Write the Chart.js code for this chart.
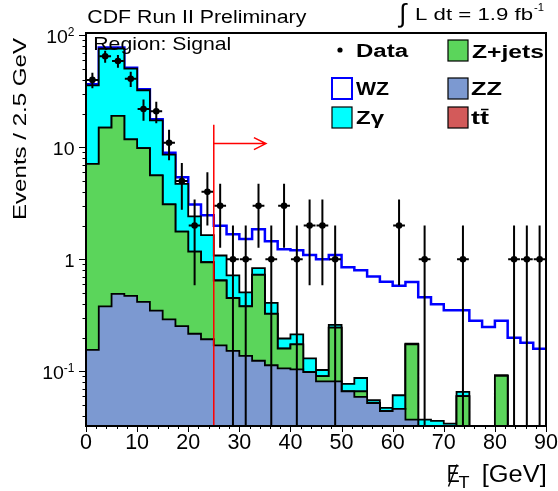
<!DOCTYPE html>
<html>
<head>
<meta charset="utf-8">
<script src="https://cdn.jsdelivr.net/npm/chart.js@4.4.1/dist/chart.umd.min.js"></script>
<style>
  html, body { margin: 0; padding: 0; background: #fff; }
  canvas { display: block; }
</style>
</head>
<body>
<canvas id="metChart" width="558" height="491"></canvas>
<script>
// missing E_T, 2.5 GeV bins
const binEdges = [0, 2.5, 5, 7.5, 10, 12.5, 15, 17.5, 20, 22.5, 25, 27.5, 30, 32.5, 35, 37.5, 40, 42.5,
  45, 47.5, 50, 52.5, 55, 57.5, 60, 62.5, 65, 67.5, 70, 72.5, 75, 77.5, 80, 82.5, 85, 87.5, 90];

const dataCounts = [40, 65, 59, 41, 22, 21, 11, 5, 2, 4, 3, 1, 1, 3, 1, 3, 1, 2,
  2, 1, 0, 0, 0, 0, 2, 0, 1, 0, 0, 1, 0, 0, 0, 1, 1, 1];

// backgrounds, stacked bottom -> top: ZZ, Z+jets, ttbar, Zgamma, WZ
const zzEvents = [0.155, 0.38, 0.49, 0.47, 0.416, 0.348, 0.29, 0.253, 0.216, 0.193, 0.17, 0.152, 0.137, 0.124, 0.113, 0.106, 0.104, 0.098,
  0.081, 0.081, 0.066, 0.059, 0.052, 0.044, 0.046, 0.037, 0.02, 0.015, 0.012, 0.01, 0.008, 0.007, 0.006, 0.005, 0.005, 0.004];
const zjetsEvents = [6.95, 14.6, 18.6, 11.3, 9.42, 5.27, 2.8, 1.51, 0.954, 0.747, 0.476, 0.298, 0.243, 0.602, 0.212, 0.053, 0.07, 0,
  0.0095, 0.164, 0, 0.007, 0, 0, 0, 0.137, 0, 0, 0, 0.05, 0, 0, 0.085, 0, 0, 0];
const ttbarEvents = [0, 0, 0, 0, 0, 0, 0, 0.001, 0.001, 0.001, 0.001, 0.001, 0.001, 0.001, 0.001, 0.001, 0, 0,
  0, 0, 0, 0, 0, 0, 0, 0, 0, 0, 0, 0, 0, 0, 0, 0, 0, 0];
const zgammaEvents = [28.7, 61, 56.9, 38.6, 22.5, 11.8, 5.5, 2.96, 1.25, 0.7, 0.434, 0.266, 0.126, 0.106, 0.082, 0.036, 0.039, 0.032,
  0.012, 0.014, 0.011, 0.021, 0.003, 0.003, 0.015, 0.002, 0.017, 0.021, 0.022, 0.0055, 0.002, 0.003, 0.001, 0.001, 0.001, 0.001];
const wzEvents = [0.7, 2, 2, 1.1, 0.7, 0.4, 0.36, 0.68, 0.67, 0.83, 0.91, 0.96, 1.01, 1.02, 1.04, 1.03, 0.99, 0.96,
  0.9, 0.83, 0.77, 0.71, 0.645, 0.583, 0.52, 0.45, 0.42, 0.36, 0.316, 0.284, 0.272, 0.238, 0.191, 0.193, 0.174, 0.154];

const xTickLabels = [0, 10, 20, 30, 40, 50, 60, 70, 80, 90];
const yTickValues = [0.1, 1, 10, 100];
const yTickText = [["10", "-1"], ["1", ""], ["10", ""], ["10", "2"]];

const cutValue = 25;       // signal region cut
const cutLineTop = 15.9;
const arrowLevel = 10.8;
const arrowEnd = 35.2;

const FONT = '"Liberation Sans", Arial, Helvetica, sans-serif';

// cumulative stack tops
function stackTop(layers) {
  return dataCounts.map((_, i) => layers.reduce((s, l) => s + l[i], 0));
}
// histogram outline points (left and right edge of every bin)
function stepPoints(values) {
  const pts = [];
  values.forEach((v, i) => {
    const y = Math.max(v, 1e-4);
    pts.push({ x: binEdges[i], y: y });
    pts.push({ x: binEdges[i + 1], y: y });
  });
  return pts;
}

const zzTop = stackTop([zzEvents]);
const zjetsTop = stackTop([zzEvents, zjetsEvents]);
const ttbarTop = stackTop([zzEvents, zjetsEvents, ttbarEvents]);
const zgammaTop = stackTop([zzEvents, zjetsEvents, ttbarEvents, zgammaEvents]);
const wzTop = stackTop([zzEvents, zjetsEvents, ttbarEvents, zgammaEvents, wzEvents]);

const dataPoints = [];
dataCounts.forEach((n, i) => {
  if (n > 0) dataPoints.push({ x: (binEdges[i] + binEdges[i + 1]) / 2, y: n });
});

function histo(label, values, fillColor, lineColor, lineWidth, order) {
  return {
    label: label,
    data: stepPoints(values),
    fill: "start",
    backgroundColor: fillColor,
    borderColor: lineColor,
    borderWidth: lineWidth,
    pointRadius: 0,
    tension: 0,
    order: order,
  };
}

function drawText(ctx, str, x, y, size, opts) {
  const o = opts || {};
  ctx.save();
  ctx.font = (o.bold ? "bold " : "") + size + "px " + FONT;
  ctx.fillStyle = o.color || "#000";
  ctx.textBaseline = "alphabetic";
  ctx.textAlign = "left";
  const natural = ctx.measureText(str).width;
  const sx = o.width ? o.width / natural : 1;
  const w = natural * sx;
  let left = x;
  if (o.align === "right") left = x - w;
  else if (o.align === "center") left = x - w / 2;
  ctx.translate(left, y);
  if (o.rotate) ctx.rotate(o.rotate);
  ctx.scale(sx, 1);
  ctx.fillText(str, 0, 0);
  ctx.restore();
  return w;
}

const errorBars = {
  id: "errorBars",
  beforeDatasetDraw(chart, args) {
    if (args.index !== 0) return;
    const { ctx, chartArea, scales: { x, y } } = chart;
    ctx.save();
    ctx.beginPath();
    ctx.rect(chartArea.left, chartArea.top, chartArea.width, chartArea.height);
    ctx.clip();
    ctx.strokeStyle = "#000";
    ctx.lineWidth = 2;
    dataCounts.forEach((n, i) => {
      if (!n) return;
      const err = Math.sqrt(n);
      const px = x.getPixelForValue((binEdges[i] + binEdges[i + 1]) / 2);
      const py = y.getPixelForValue(n);
      const top = y.getPixelForValue(n + err);
      const bot = n - err > 0 ? y.getPixelForValue(n - err) : chartArea.bottom;
      ctx.beginPath();
      ctx.moveTo(px, top);
      ctx.lineTo(px, bot);
      ctx.moveTo(x.getPixelForValue(binEdges[i]) + 0.5, py);
      ctx.lineTo(x.getPixelForValue(binEdges[i + 1]) - 0.5, py);
      ctx.stroke();
    });
    ctx.restore();
  },
};

const decorations = {
  id: "decorations",
  afterDatasetsDraw(chart) {
    const { ctx, chartArea, scales: { x, y } } = chart;
    // cut line + arrow
    ctx.save();
    ctx.strokeStyle = "#ff0000";
    ctx.lineWidth = 1.5;
    const cx = x.getPixelForValue(cutValue);
    const ay = y.getPixelForValue(arrowLevel);
    const ax = x.getPixelForValue(arrowEnd);
    ctx.beginPath();
    ctx.moveTo(cx, chartArea.bottom);
    ctx.lineTo(cx, y.getPixelForValue(cutLineTop));
    ctx.moveTo(cx, ay);
    ctx.lineTo(ax, ay);
    ctx.moveTo(ax - 12, ay - 6);
    ctx.lineTo(ax, ay);
    ctx.lineTo(ax - 12, ay + 6);
    ctx.stroke();
    ctx.restore();
  },
  afterDraw(chart) {
    const { ctx, chartArea, scales: { x, y } } = chart;
    const { left, right, top, bottom } = chartArea;
    ctx.save();
    // frame
    ctx.strokeStyle = "#000";
    ctx.lineWidth = 2;
    ctx.strokeRect(left, top, right - left, bottom - top);

    // ticks (outside)
    ctx.lineWidth = 1;
    ctx.beginPath();
    for (let v = 0; v <= 90; v += 2) {
      const px = Math.round(x.getPixelForValue(v)) + 0.5;
      ctx.moveTo(px, bottom);
      ctx.lineTo(px, bottom + (v % 10 === 0 ? 6 : 3));
    }
    for (let d = -2; d <= 2; d++) {
      for (let k = 1; k <= 9; k++) {
        const v = k * Math.pow(10, d);
        if (v < y.min || v > y.max) continue;
        const py = Math.round(y.getPixelForValue(v)) + 0.5;
        ctx.moveTo(left, py);
        ctx.lineTo(left - (k === 1 ? 7 : 3.5), py);
      }
    }
    ctx.stroke();
    ctx.restore();

    // x tick labels
    xTickLabels.forEach((v) => {
      drawText(ctx, String(v), x.getPixelForValue(v), 449, 21.5, { align: "center" });
    });
    // y tick labels
    yTickValues.forEach((v, i) => {
      const base = y.getPixelForValue(v) + 8;
      const [main, sup] = yTickText[i];
      let rightEdge = 74.5;
      if (sup) {
        rightEdge -= drawText(ctx, sup, rightEdge, base - 7.5, 12, { align: "right" });
      }
      drawText(ctx, main, rightEdge, base, 18, { align: "right", width: main.length === 2 ? 21.7 : null });
    });

    // axis titles
    ctx.save();
    ctx.translate(25.5, 220);
    ctx.rotate(-Math.PI / 2);
    drawText(ctx, "Events / 2.5 GeV", 0, 0, 19, { width: 182 });
    ctx.restore();

    drawText(ctx, "[GeV]", 546.7, 481.7, 23, { align: "right", width: 65 });
    drawText(ctx, "E", 446.7, 481.7, 23, { width: 13 });
    drawText(ctx, "T", 458.5, 488, 16, { width: 11 });
    ctx.save();
    ctx.strokeStyle = "#000";
    ctx.lineWidth = 1.4;
    ctx.beginPath();
    ctx.moveTo(448.5, 486.5);
    ctx.lineTo(457, 464.5);
    ctx.stroke();
    ctx.restore();

    // header texts
    drawText(ctx, "CDF Run II Preliminary", 87.3, 22.7, 18, { width: 219 });
    drawText(ctx, "\u222B", 399, 22, 26, {});
    drawText(ctx, "L dt = 1.9 fb", 415, 20, 16.5, { width: 118 });
    drawText(ctx, "-1", 534, 11, 11, { width: 10 });
    drawText(ctx, "Region: Signal", 93.3, 50, 18.5, { width: 138 });

    // legend
    ctx.save();
    ctx.fillStyle = "#000";
    ctx.beginPath();
    ctx.arc(340, 50, 2.6, 0, Math.PI * 2);
    ctx.fill();
    const boxes = [
      [332, 78, "#ffffff", "#0000ff"],
      [332, 107, "#00ffff", "#000"],
      [448, 40, "#5bd55b", "#000"],
      [448, 78, "#7c99d1", "#000"],
      [448, 107, "#d35a5a", "#000"],
    ];
    boxes.forEach(([bx, by, fill, line]) => {
      ctx.fillStyle = fill;
      ctx.fillRect(bx, by, 20, 21);
      ctx.strokeStyle = line;
      ctx.lineWidth = line === "#0000ff" ? 2 : 1.2;
      ctx.strokeRect(bx, by, 20, 21);
    });
    ctx.restore();
    drawText(ctx, "Data", 356, 56.5, 18, { bold: true, width: 52 });
    drawText(ctx, "WZ", 356, 95, 18, { bold: true, width: 33 });
    drawText(ctx, "Z\u03B3", 356, 124, 18, { bold: true, width: 28 });
    drawText(ctx, "Z+jets", 472, 57.5, 18, { bold: true, width: 72 });
    drawText(ctx, "ZZ", 471, 95, 18, { bold: true, width: 31 });
    drawText(ctx, "tt", 471, 124, 18, { bold: true, width: 18 });
    ctx.save();
    ctx.strokeStyle = "#000";
    ctx.lineWidth = 1.5;
    ctx.beginPath();
    ctx.moveTo(481, 109.5);
    ctx.lineTo(488.5, 109.5);
    ctx.stroke();
    ctx.restore();
  },
};

new Chart(document.getElementById("metChart"), {
  type: "line",
  data: {
    datasets: [
      {
        label: "Data",
        data: dataPoints,
        showLine: false,
        pointRadius: 3.3,
        pointBackgroundColor: "#000",
        pointBorderWidth: 0,
        order: 0,
      },
      histo("ZZ", zzTop, "#7c99d1", "#000", 1.8, 1),
      histo("Z+jets", zjetsTop, "#5bd55b", "#000", 1.8, 2),
      histo("ttbar", ttbarTop, "#d35a5a", "#000", 1.8, 3),
      histo("Zgamma", zgammaTop, "#00ffff", "#000", 1.8, 4),
      histo("WZ", wzTop, "#ffffff", "#0000ff", 2.5, 5),
    ],
  },
  options: {
    responsive: false,
    animation: false,
    devicePixelRatio: 1,
    layout: { padding: { left: 86, right: 12, top: 33, bottom: 65 } },
    scales: {
      x: { type: "linear", min: 0, max: 90, display: false },
      y: { type: "logarithmic", min: 0.0324, max: 105, display: false },
    },
    plugins: {
      legend: { display: false },
      tooltip: { enabled: false },
    },
  },
  plugins: [errorBars, decorations],
});
</script>
</body>
</html>
